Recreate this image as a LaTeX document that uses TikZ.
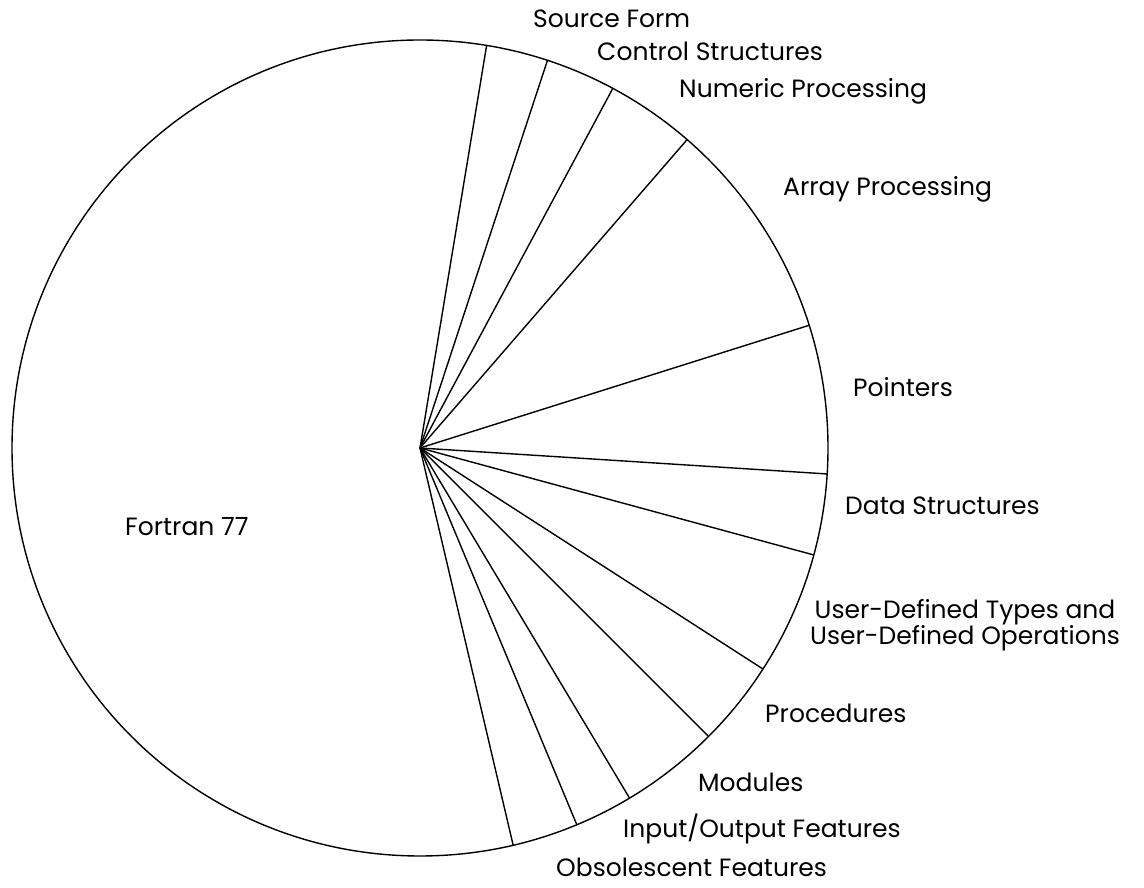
\documentclass[tikz,border=0pt]{standalone}
\usepackage{fontspec}
\setmainfont{Poppins}
\usetikzlibrary{calc}
\begin{document}
\begin{tikzpicture}[x=1pt,y=1pt,
  wedge/.style={line width=1.4pt, black},
  lbl/.style={anchor=base west, inner sep=0pt, font=\fontsize{25}{23}\selectfont}]
\useasboundingbox (0,0) rectangle (1144,888);
% pie outline and centre
\coordinate (c) at (420,440);
\draw[wedge] (c) circle[radius=408];
% slice boundaries (angles in degrees)
\foreach \a/\n in {80.6/s1,71.8/s2,61.8/s3,49.1/s4,17.5/s5,-3.65/s6,-15.2/s7,-32.8/s8,-45.0/s9,-59.1/s10,-67.4/s11,-76.8/s12}{
  \coordinate (\n) at ($(c)+(\a:408)$);
  \draw[wedge] (c) -- (\n);
}
% slice labels
\node[lbl] (lsrc) at (533,860) {Source Form};
\node[lbl] (lctl) at (597,827) {Control Structures};
\node[lbl] (lnum) at (679,790) {Numeric Processing};
\node[lbl] (larr) at (783,692) {Array Processing};
\node[lbl] (lptr) at (853,491) {Pointers};
\node[lbl] (ldat) at (845,373) {Data Structures};
\node[anchor=base, inner sep=0pt, align=center, font=\fontsize{25}{22}\selectfont] (ludt) at (965,243) {User-Defined Types and\\User-Defined Operations};
\node[lbl] (lproc) at (765,165) {Procedures};
\node[lbl] (lmod) at (698,96) {Modules};
\node[lbl] (lio) at (623,50) {Input/Output Features};
\node[lbl] (lobs) at (556,11) {Obsolescent Features};
\node[lbl] (lf77) at (125,352) {Fortran 77};
\end{tikzpicture}
\end{document}
